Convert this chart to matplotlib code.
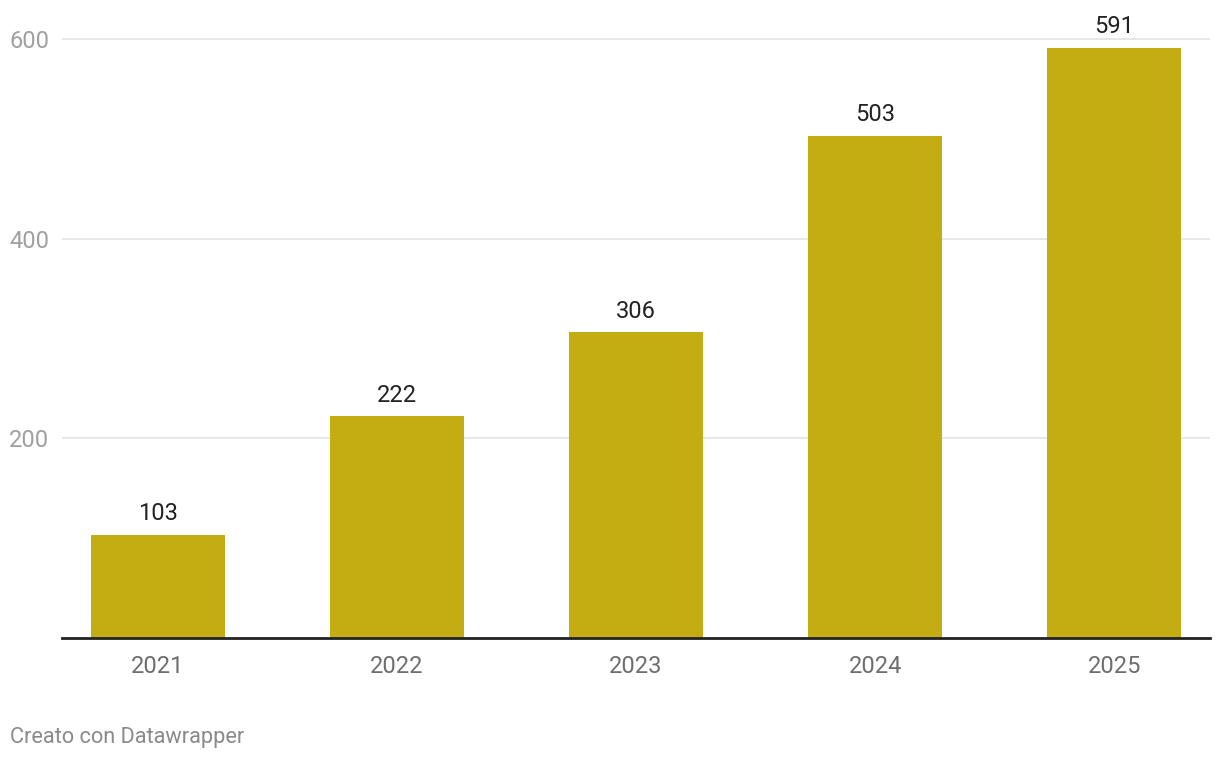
import matplotlib
matplotlib.use("Agg")
import matplotlib.pyplot as plt

# dati
years = ["2021", "2022", "2023", "2024", "2025"]
values = [103, 222, 306, 503, 591]
y_ticks = [200, 400, 600]

bar_color = "#c4ad12"
plt.rcParams['font.family'] = ['Roboto', 'DejaVu Sans']

fig = plt.figure(figsize=(12.2, 7.62), dpi=100)
ax = fig.add_axes([62 / 1220, 1 - 638 / 762, (1210 - 62) / 1220, (638 - 18) / 762])

x = range(len(years))
bars = ax.bar(x, values, width=0.56, color=bar_color, zorder=2)

for b, v in zip(bars, values):
    ax.annotate(str(v), (b.get_x() + b.get_width() / 2, v), xytext=(0, 7),
                textcoords="offset points", ha="center", va="bottom",
                fontsize=17, color="#222222")

ax.set_xlim(-0.4, len(years) - 0.6)
ax.set_ylim(0, 620.8)
ax.set_xticks(list(x))
ax.set_xticklabels(years)
ax.set_yticks(y_ticks)
ax.set_yticklabels([str(t) for t in y_ticks])

ax.grid(axis="y", color="#e3e3e3", linewidth=1.2, zorder=0)
for s in ["top", "right", "left"]:
    ax.spines[s].set_visible(False)
ax.spines["bottom"].set_color("#222222")
ax.spines["bottom"].set_linewidth(2)
ax.spines["bottom"].set_zorder(3)

ax.tick_params(axis="x", length=0, pad=12, labelsize=17, labelcolor="#6e6e6e")
ax.tick_params(axis="y", length=0, pad=9, labelsize=17, labelcolor="#a0a0a0")

fig.text(10 / 1220, 1 - 738 / 762, "Creato con Datawrapper", fontsize=15.7,
         color="#8a8a8a", ha="left", va="center")

fig.savefig("out.png", dpi=100)
